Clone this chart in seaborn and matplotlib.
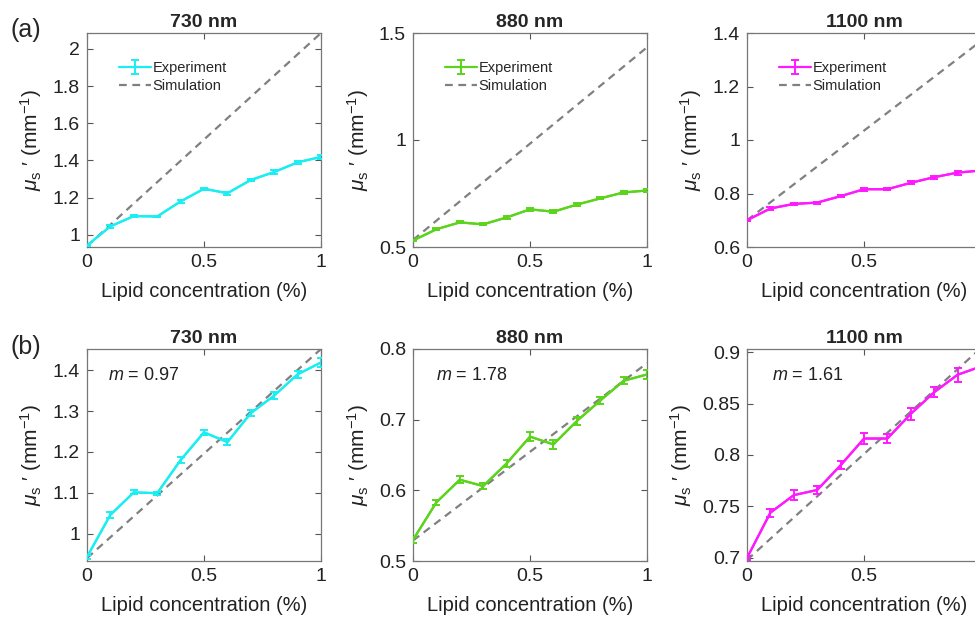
import numpy as np
import pandas as pd
import matplotlib
matplotlib.use("Agg")
import matplotlib.pyplot as plt
import seaborn as sns
from matplotlib.ticker import FuncFormatter

# ---------------- data ----------------
wavelengths = ["730 nm", "880 nm", "1100 nm"]
lipid = [0.0, 0.1, 0.2, 0.3, 0.4, 0.5, 0.6, 0.7, 0.8, 0.9, 1.0]

exp_730 = [0.943, 1.046, 1.101, 1.099, 1.180, 1.248, 1.224, 1.295, 1.338, 1.390, 1.419]
err_730 = [0.005, 0.007, 0.005, 0.004, 0.007, 0.006, 0.008, 0.007, 0.009, 0.008, 0.011]
exp_880 = [0.530, 0.583, 0.615, 0.606, 0.638, 0.676, 0.665, 0.698, 0.727, 0.755, 0.764]
err_880 = [0.004, 0.004, 0.005, 0.004, 0.005, 0.006, 0.006, 0.006, 0.005, 0.005, 0.006]
exp_1100 = [0.700, 0.744, 0.761, 0.766, 0.790, 0.816, 0.816, 0.840, 0.861, 0.878, 0.886]
err_1100 = [0.002, 0.004, 0.005, 0.004, 0.004, 0.005, 0.004, 0.006, 0.005, 0.007, 0.006]

# simulation lines (endpoints at 0 % and 1 %)
sim_x = [0.0, 1.0]
sim_a_730 = [0.940, 2.085]
sim_a_880 = [0.533, 1.433]
sim_a_1100 = [0.700, 1.370]
sim_b_730 = [0.940, 1.452]
sim_b_880 = [0.529, 0.780]
sim_b_1100 = [0.698, 0.904]

slopes = ["0.97", "1.78", "1.61"]

ylims_a = [(0.935, 2.085), (0.5, 1.5), (0.6, 1.4)]
ylims_b = [(0.933, 1.452), (0.5, 0.8), (0.697, 0.903)]
yticks_a = [[1, 1.2, 1.4, 1.6, 1.8, 2], [0.5, 1, 1.5], [0.6, 0.8, 1, 1.2, 1.4]]
yticks_b = [[1, 1.1, 1.2, 1.3, 1.4], [0.5, 0.6, 0.7, 0.8], [0.7, 0.75, 0.8, 0.85, 0.9]]
xticks = [0, 0.5, 1]

colors = ["#19EEF2", "#5CD31C", "#FF19FF"]
sim_color = "#808080"

exps = [exp_730, exp_880, exp_1100]
errs = [err_730, err_880, err_1100]
sims_a = [sim_a_730, sim_a_880, sim_a_1100]
sims_b = [sim_b_730, sim_b_880, sim_b_1100]

# ---------------- style ----------------
sns.set_style("white")
plt.rcParams["font.family"] = ["Liberation Sans", "DejaVu Sans"]
plt.rcParams["mathtext.fontset"] = "custom"
plt.rcParams["mathtext.rm"] = "Liberation Sans"
plt.rcParams["mathtext.it"] = "Liberation Sans:italic"
plt.rcParams["mathtext.bf"] = "Liberation Sans:bold"

fig = plt.figure(figsize=(9.75, 6.21), dpi=100)

W, H = 975.0, 621.0
lefts = [87, 413, 747]
axw = 234
rows = [(33, 247), (349, 561)]

ylabel = r"$\mathit{\mu}_{\mathrm{s}}$" + " \u2032 (mm$^{-1}$)"


def make_fmt(hide_last):
    def f(v, p):
        if hide_last and abs(v - 1) < 1e-9:
            return ""
        return "%g" % round(v, 3)
    return FuncFormatter(f)


def style_axes(ax, ylim, yt, hide_last):
    ax.set_xlim(0, 1)
    ax.set_ylim(*ylim)
    ax.set_xticks(xticks)
    ax.set_yticks(yt)
    ax.xaxis.set_major_formatter(make_fmt(hide_last))
    ax.yaxis.set_major_formatter(make_fmt(False))
    ax.tick_params(direction="in", length=4, width=0.8, colors="#555555",
                   labelcolor="#222222", labelsize=14, top=True, right=True,
                   bottom=True, left=True, pad=5)
    for s in ax.spines.values():
        s.set_visible(True)
        s.set_color("#777777")
        s.set_linewidth(0.9)
    ax.set_xlabel("Lipid concentration (%)", fontsize=14.5, color="#222222", labelpad=8)
    ax.set_ylabel(ylabel, fontsize=15, color="#222222", labelpad=6)


for r, (top, bot) in enumerate(rows):
    for c in range(3):
        ax = fig.add_axes([lefts[c] / W, (H - bot) / H, axw / W, (bot - top) / H])
        df = pd.DataFrame({"x": lipid, "y": exps[c]})
        sims = sims_a if r == 0 else sims_b
        dsim = pd.DataFrame({"x": sim_x, "y": sims[c]})
        sns.lineplot(data=dsim, x="x", y="y", ax=ax, color=sim_color,
                     linestyle=(0, (3.5, 2.5)), linewidth=1.6, label="Simulation",
                     zorder=2)
        ax.errorbar(lipid, exps[c], yerr=errs[c], color=colors[c], lw=1.6,
                    capsize=3, capthick=1.4, elinewidth=1.4, zorder=3,
                    label="Experiment")
        sns.lineplot(data=df, x="x", y="y", ax=ax, color=colors[c], linewidth=1.6,
                     zorder=4, legend=False)
        style_axes(ax, ylims_a[c] if r == 0 else ylims_b[c],
                   yticks_a[c] if r == 0 else yticks_b[c], hide_last=(c == 2))
        ax.set_title(wavelengths[c], fontsize=14, fontweight="bold", pad=4)
        if r == 0:
            handles, labels = ax.get_legend_handles_labels()
            order = [labels.index("Experiment"), labels.index("Simulation")]
            ax.legend([handles[i] for i in order], [labels[i] for i in order],
                      loc="upper left", bbox_to_anchor=(0.1, 0.91), frameon=False,
                      fontsize=10.5, handlelength=2.2, handletextpad=0.1,
                      labelspacing=0.25, borderaxespad=0.2)
        else:
            leg = ax.get_legend()
            if leg is not None:
                leg.remove()
            ax.text([0.09, 0.10, 0.107][c], 0.875, r"$m$ = " + slopes[c],
                    transform=ax.transAxes, fontsize=13, va="center", ha="left",
                    color="#222222")

fig.text(10 / W, 1 - 30 / H, "(a)", fontsize=18, va="center", ha="left")
fig.text(10 / W, 1 - 347 / H, "(b)", fontsize=18, va="center", ha="left")

fig.savefig("out.png", dpi=100)
